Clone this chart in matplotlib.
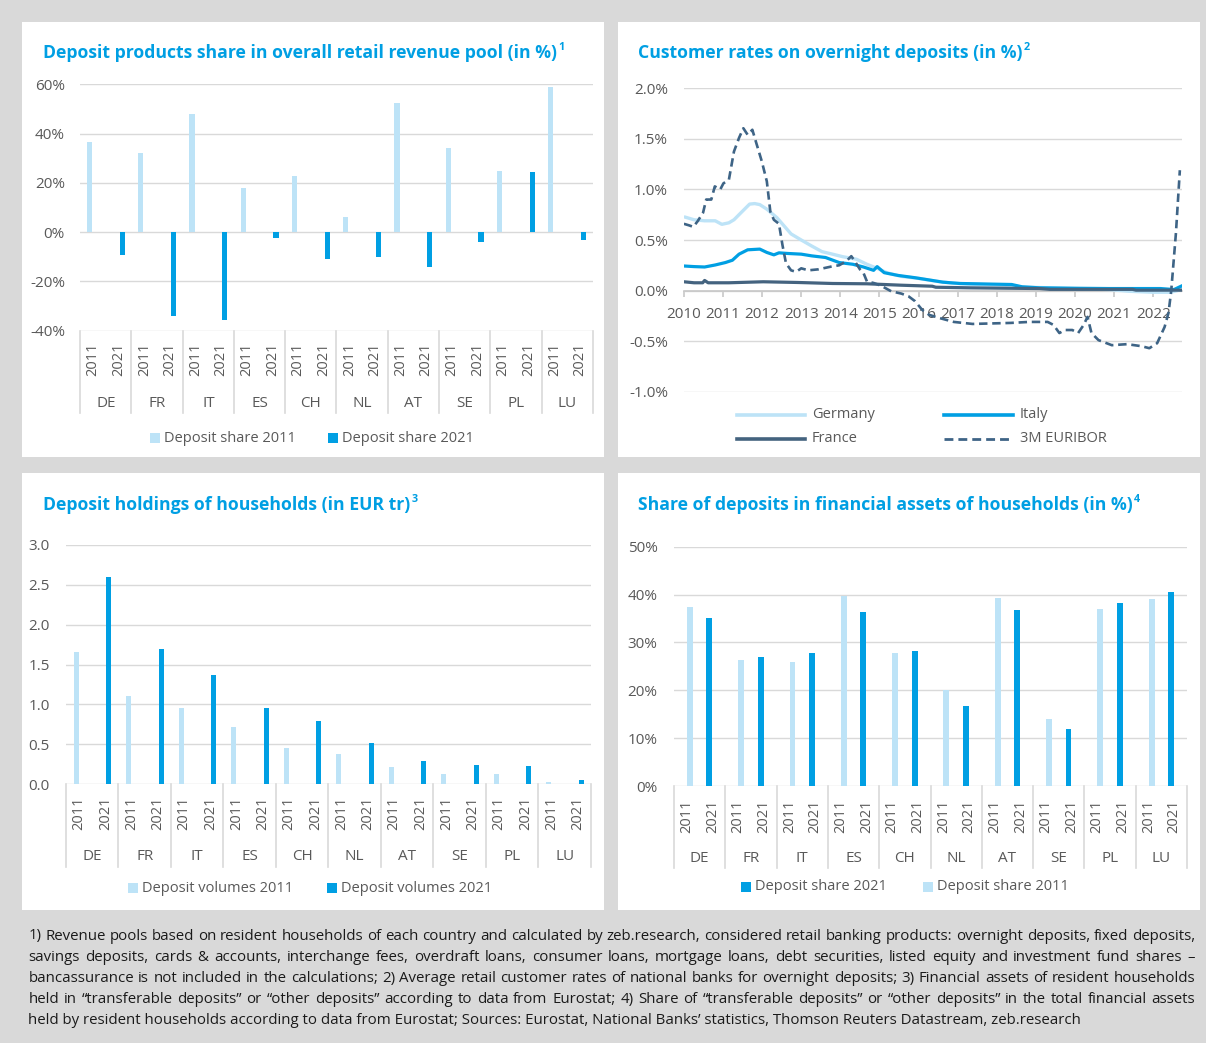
import numpy as np
import matplotlib
matplotlib.use('Agg')
import matplotlib.pyplot as plt
from matplotlib.patches import Rectangle
from matplotlib.lines import Line2D
import matplotlib.transforms as mtransforms

plt.rcParams['font.family'] = ['Open Sans', 'DejaVu Sans']

# ------------------------------------------------------------------ data
countries = ['DE', 'FR', 'IT', 'ES', 'CH', 'NL', 'AT', 'SE', 'PL', 'LU']
years = ['2011', '2021']

rev_share_2011 = [36.5, 32.3, 47.8, 17.8, 22.9, 6.0, 52.5, 34.3, 24.9, 58.9]
rev_share_2021 = [-9.1, -34.0, -35.7, -2.2, -10.8, -10.0, -14.3, -4.2, 24.3, -3.0]

vol_2011 = [1.66, 1.10, 0.96, 0.72, 0.45, 0.38, 0.21, 0.13, 0.12, 0.025]
vol_2021 = [2.60, 1.70, 1.37, 0.95, 0.79, 0.51, 0.29, 0.24, 0.23, 0.05]

fin_share_2011 = [37.3, 26.4, 26.0, 39.6, 27.8, 20.1, 39.3, 14.0, 37.0, 39.1]
fin_share_2021 = [35.2, 26.9, 27.8, 36.4, 28.2, 16.8, 36.7, 11.9, 38.2, 40.5]

germany_t = [2010.0, 2010.26, 2010.53, 2010.8, 2010.97, 2011.15, 2011.28, 2011.46, 2011.68, 2011.81,
             2011.94, 2012.12, 2012.38, 2012.56, 2012.74, 2013.0, 2013.27, 2013.53, 2013.8, 2014.06,
             2014.41, 2014.68, 2014.94, 2015.2, 2015.56, 2016.0, 2016.44, 2016.88, 2017.33, 2018.2,
             2018.65, 2019.09, 2019.97, 2020.86, 2021.39, 2022.0, 2022.44, 2022.62, 2022.75]
germany_v = [0.73, 0.70, 0.69, 0.69, 0.655, 0.67, 0.70, 0.77, 0.855, 0.86,
             0.85, 0.805, 0.72, 0.64, 0.56, 0.50, 0.44, 0.385, 0.36, 0.335,
             0.31, 0.26, 0.22, 0.175, 0.14, 0.12, 0.093, 0.073, 0.063, 0.053,
             0.036, 0.03, 0.02, 0.01, -0.007, -0.017, -0.017, 0.0, 0.027]

italy_t = [2010.0, 2010.26, 2010.53, 2010.8, 2011.06, 2011.24, 2011.41, 2011.63, 2011.94, 2012.12,
           2012.3, 2012.43, 2012.65, 2013.0, 2013.27, 2013.62, 2013.97, 2014.32, 2014.59, 2014.85,
           2014.94, 2015.12, 2015.47, 2015.91, 2016.35, 2016.62, 2017.06, 2018.38, 2018.65, 2019.09,
           2019.97, 2020.86, 2022.18, 2022.53, 2022.75]
italy_v = [0.243, 0.237, 0.233, 0.253, 0.277, 0.30, 0.36, 0.403, 0.41, 0.377,
           0.353, 0.373, 0.367, 0.36, 0.343, 0.327, 0.277, 0.26, 0.233, 0.20,
           0.237, 0.177, 0.15, 0.127, 0.10, 0.083, 0.07, 0.06, 0.037, 0.027,
           0.023, 0.02, 0.02, 0.01, 0.05]

france_t = [2010.0, 2010.26, 2010.48, 2010.53, 2010.62, 2011.15, 2012.03, 2012.91, 2013.8, 2014.68,
            2015.56, 2016.35, 2016.44, 2017.33, 2019.09, 2019.36, 2021.47, 2021.56, 2022.75]
france_v = [0.087, 0.077, 0.077, 0.10, 0.077, 0.077, 0.087, 0.08, 0.07, 0.067,
            0.053, 0.043, 0.033, 0.027, 0.02, 0.012, 0.012, 0.004, 0.004]

euribor_t = [2010.0, 2010.13, 2010.24, 2010.35, 2010.49, 2010.57, 2010.7, 2010.79, 2010.93, 2011.01,
             2011.15, 2011.28, 2011.41, 2011.52, 2011.63, 2011.75, 2011.85, 2011.99, 2012.12, 2012.21,
             2012.3, 2012.43, 2012.52, 2012.61, 2012.74, 2012.87, 2013.0, 2013.18, 2013.44, 2013.8,
             2013.97, 2014.15, 2014.28, 2014.37, 2014.5, 2014.59, 2014.68, 2014.85, 2015.03, 2015.3,
             2015.56, 2015.74, 2015.91, 2016.09, 2016.27, 2016.52, 2016.9, 2017.38, 2018.35, 2018.83,
             2019.3, 2019.45, 2019.6, 2019.74, 2019.93, 2020.08, 2020.22, 2020.32, 2020.42, 2020.6,
             2020.94, 2021.33, 2021.7, 2021.9, 2022.1, 2022.29, 2022.39, 2022.46, 2022.58, 2022.68]
euribor_v = [0.66, 0.645, 0.63, 0.685, 0.77, 0.90, 0.90, 1.03, 1.00, 1.06,
             1.095, 1.375, 1.51, 1.605, 1.54, 1.59, 1.46, 1.28, 1.08, 0.78,
             0.70, 0.66, 0.45, 0.27, 0.20, 0.185, 0.22, 0.20, 0.21, 0.24,
             0.25, 0.29, 0.34, 0.29, 0.21, 0.175, 0.09, 0.075, 0.05, -0.007,
             -0.03, -0.056, -0.105, -0.19, -0.24, -0.27, -0.31, -0.33, -0.32, -0.31,
             -0.31, -0.34, -0.42, -0.39, -0.39, -0.42, -0.34, -0.26, -0.42, -0.49,
             -0.54, -0.53, -0.55, -0.57, -0.52, -0.36, -0.22, 0.0, 0.57, 1.19]

year_ticks = list(range(2010, 2023))

footnote_lines = [
    "1) Revenue pools based on resident households of each country and calculated by zeb.research, considered retail banking products: overnight deposits, fixed deposits,",
    "savings deposits, cards & accounts, interchange fees, overdraft loans, consumer loans, mortgage loans, debt securities, listed equity and investment fund shares \u2013",
    "bancassurance is not included in the calculations; 2) Average retail customer rates of national banks for overnight deposits; 3) Financial assets of resident households",
    "held in \u201ctransferable deposits\u201d or \u201cother deposits\u201d according to data from Eurostat; 4) Share of \u201ctransferable deposits\u201d or \u201cother deposits\u201d in the total financial assets",
    "held by resident households according to data from Eurostat; Sources: Eurostat, National Banks\u2019 statistics, Thomson Reuters Datastream, zeb.research",
]

# ------------------------------------------------------------------ style
LIGHT = '#bde3f7'
BLUE = '#009fe3'
FRANCE_C = '#44637f'
EURIBOR_C = '#3e6486'
GRID = '#d9d9d9'
LABEL = '#595959'
BG = '#d9d9d9'
FS = 10.5
YFS = 11

W, H = 1206, 1043
fig = plt.figure(figsize=(W / 100, H / 100), dpi=100)
fig.patch.set_facecolor(BG)
renderer = fig.canvas.get_renderer()


def fx(px):
    return px / W


def fy(py):
    return 1 - py / H


def panel(x0, y0, x1, y1):
    fig.patches.append(Rectangle((fx(x0), fy(y1)), (x1 - x0) / W, (y1 - y0) / H,
                                 transform=fig.transFigure, facecolor='white',
                                 edgecolor='none', zorder=-5))


panel(22, 22, 604, 457)
panel(618, 22, 1200, 457)
panel(22, 473, 604, 910)
panel(618, 473, 1200, 910)


def add_ax(x0, x1, ytop, ybot):
    a = fig.add_axes([fx(x0), fy(ybot), (x1 - x0) / W, (ybot - ytop) / H])
    a.set_zorder(1)
    return a


def text_px(x, y, s, **kw):
    return fig.text(fx(x), fy(y), s, **kw)


# ------------------------------------------------------------------ titles
titles = [
    (42.6, 53, "Deposit products share in overall retail revenue pool (in %)", "1"),
    (637.6, 53, "Customer rates on overnight deposits (in %)", "2"),
    (42.6, 505, "Deposit holdings of households (in EUR tr)", "3"),
    (637.6, 505, "Share of deposits in financial assets of households (in %)", "4"),
]
probe = text_px(0, 0, titles[0][2], fontsize=12, fontweight='bold')
tfs = 12 * 513.0 / probe.get_window_extent(renderer).width
probe.remove()
for x, y, s, sup in titles:
    t = text_px(x, y, s, fontsize=tfs, fontweight='bold', color=BLUE, va='center', ha='left')
    bb = t.get_window_extent(renderer)
    text_px(bb.x1 + 1.5, y - 6, sup, fontsize=tfs * 0.62, fontweight='bold', color=BLUE,
            va='center', ha='left')


# ------------------------------------------------------------------ bar panels
def bar_panel(rect, ylim, yticks, fmt, v11, v21, off11, off21, bw, sep_bot, country_y, ypad, xpad):
    x0, x1, ytop, ybot = rect
    ax = add_ax(x0, x1, ytop, ybot)
    n = len(countries)
    xs = np.arange(2 * n) + 0.5
    ax.bar(xs[0::2] + off11, v11, width=bw, color=LIGHT, zorder=3)
    ax.bar(xs[1::2] + off21, v21, width=bw, color=BLUE, zorder=3)
    ax.set_xlim(0, 2 * n)
    ax.set_ylim(*ylim)
    ax.set_yticks(yticks)
    ax.set_yticklabels([fmt.format(t) for t in yticks])
    ax.set_xticks(xs)
    ax.set_xticklabels(years * n, rotation=90, va='top', ha='center')
    for s in ax.spines.values():
        s.set_visible(False)
    ax.yaxis.grid(True, color=GRID, lw=1.0, zorder=0)
    ax.set_axisbelow(True)
    ax.tick_params(axis='y', length=0, labelsize=YFS, labelcolor=LABEL, pad=ypad)
    ax.tick_params(axis='x', length=0, labelsize=FS, labelcolor=LABEL, pad=xpad)
    ax.set_facecolor('none')
    tr = mtransforms.blended_transform_factory(ax.transData, fig.transFigure)
    for g in range(n + 1):
        ax.add_line(Line2D([2 * g, 2 * g], [fy(ybot), fy(sep_bot)], transform=tr,
                           color=GRID, lw=1.2, clip_on=False))
    for g, c in enumerate(countries):
        ax.text(2 * g + 1, fy(country_y), c, transform=tr, ha='center', va='center',
                fontsize=FS + 0.5, color=LABEL)
    return ax


bar_panel((80.2, 592.8, 84.3, 330.7), (-40, 60), list(range(-40, 61, 20)), '{:.0f}%',
          rev_share_2011, rev_share_2021, -0.14, 0.14, 0.2, 413, 403, 11.0, 8.5)
bar_panel((65.9, 591.0, 545.0, 784.0), (0, 3.0), [0, 0.5, 1.0, 1.5, 2.0, 2.5, 3.0], '{:.1f}',
          vol_2011, vol_2021, -0.11, 0.13, 0.2, 867, 856, 11.6, 9.0)
bar_panel((674.0, 1187.0, 546.7, 786.0), (0, 50), list(range(0, 51, 10)), '{:.0f}%',
          fin_share_2011, fin_share_2021, 0.12, -0.12, 0.23, 868, 858, 11.8, 10.0)


def sq_legend(items, y):
    for x, col, label in items:
        fig.patches.append(Rectangle((fx(x), fy(y + 5)), 10 / W, 10 / H, transform=fig.transFigure,
                                     facecolor=col, edgecolor='none', zorder=2))
        text_px(x + 14, y, label, fontsize=FS, color=LABEL, va='center', ha='left')


sq_legend([(150, LIGHT, 'Deposit share 2011'), (328, BLUE, 'Deposit share 2021')], 438)
sq_legend([(128, LIGHT, 'Deposit volumes 2011'), (327, BLUE, 'Deposit volumes 2021')], 888)
sq_legend([(741, BLUE, 'Deposit share 2021'), (923, LIGHT, 'Deposit share 2011')], 887)

# ------------------------------------------------------------------ line panel
ax = add_ax(683.9, 1182.2, 88.3, 391.7)
ax.set_facecolor('none')
ax.plot(germany_t, germany_v, color=LIGHT, lw=2.4, zorder=3, solid_capstyle='butt')
ax.plot(italy_t, italy_v, color=BLUE, lw=2.3, zorder=4, solid_capstyle='butt')
ax.plot(france_t, france_v, color=FRANCE_C, lw=2.3, zorder=5, solid_capstyle='butt')
ax.plot(euribor_t, euribor_v, color=EURIBOR_C, lw=1.9, ls=(0, (3.2, 1.8)), zorder=6)
ax.set_xlim(2010, 2022.74)
ax.set_ylim(-1.0, 2.0)
yt = [-1.0, -0.5, 0.0, 0.5, 1.0, 1.5, 2.0]
ax.set_yticks(yt)
ax.set_yticklabels(['{:.1f}%'.format(v) for v in yt])
ax.set_xticks(year_ticks)
ax.set_xticklabels([str(y) for y in year_ticks])
for k in ['top', 'right', 'left']:
    ax.spines[k].set_visible(False)
ax.spines['bottom'].set_position(('data', 0))
ax.spines['bottom'].set_color('#c8c8c8')
ax.spines['bottom'].set_linewidth(1.2)
ax.yaxis.grid(True, color=GRID, lw=1.0)
ax.set_axisbelow(True)
ax.tick_params(axis='y', length=0, labelsize=YFS, labelcolor=LABEL, pad=11.5)
ax.tick_params(axis='x', direction='out', length=4.5, width=1.2, color='#c8c8c8',
               labelsize=YFS, labelcolor=LABEL, pad=7)

legend_lines = [
    (737, 805, 415, LIGHT, '-', 2.6, 'Germany'),
    (737, 805, 439, FRANCE_C, '-', 2.6, 'France'),
    (944, 1013, 415, BLUE, '-', 2.6, 'Italy'),
    (944, 1013, 439, EURIBOR_C, (0, (3.2, 1.8)), 2.0, '3M EURIBOR'),
]
for xa, xb, y, col, ls, lw, lab in legend_lines:
    fig.add_artist(Line2D([fx(xa), fx(xb)], [fy(y), fy(y)], transform=fig.transFigure,
                          color=col, ls=ls, lw=lw))
    text_px(xb + 7, y, lab, fontsize=FS, color=LABEL, va='center', ha='left')

# ------------------------------------------------------------------ footnote
x_left, x_right = 28.4, 1195.0
probe = text_px(0, 0, footnote_lines[-1], fontsize=10)
nfs = 10 * (1077.0 - x_left) / probe.get_window_extent(renderer).width
probe.remove()
FN_C = '#1a1a1a'
for i, line in enumerate(footnote_lines):
    y = 936 + 21.2 * i
    if i == len(footnote_lines) - 1:
        text_px(x_left, y, line, fontsize=nfs, color=FN_C, va='center', ha='left')
        continue
    words = line.split(' ')
    objs = [text_px(0, y, w_, fontsize=nfs, color=FN_C, va='center', ha='left') for w_ in words]
    widths = [o.get_window_extent(renderer).width for o in objs]
    gap = (x_right - x_left - sum(widths)) / (len(words) - 1)
    xpos = x_left
    for o, wd in zip(objs, widths):
        o.set_x(fx(xpos))
        xpos += wd + gap

fig.savefig('out.png', dpi=100, facecolor=BG)
